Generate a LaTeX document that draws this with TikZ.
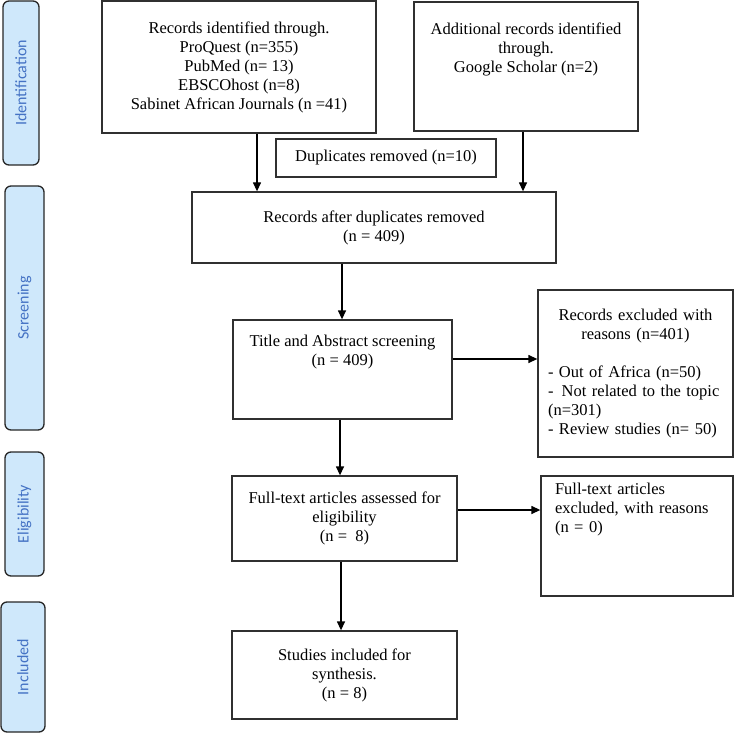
\documentclass[tikz,border=0pt]{standalone}
\usepackage{fontspec}
\setmainfont{Liberation Serif}
\newfontfamily\stagefont{Carlito}
\usetikzlibrary{arrows.meta}
\definecolor{stagefill}{HTML}{CFE8FB}
\definecolor{stagetext}{HTML}{4472C4}
\definecolor{boxline}{HTML}{303030}
\tikzset{
  flowbox/.style={rectangle,draw=boxline,line width=1.3pt,inner sep=2pt,
    align=center,font=\fontsize{16.5}{19}\selectfont},
  stagebox/.style={rectangle,rounded corners=6pt,draw=black!85,line width=1.3pt,
    fill=stagefill,rotate=90,inner sep=0pt,text=stagetext,
    font=\stagefont\fontsize{16}{19}\selectfont},
  flowarrow/.style={-{Triangle[length=9pt,width=8pt]},line width=1.3pt}
}
\begin{document}
\begin{tikzpicture}[x=1pt,y=-1pt]
  \useasboundingbox (0,0) rectangle (734,733);
  % stages on the left
  \node[stagebox,minimum width=164pt,minimum height=36pt] (sident) at (21,83) {Identification};
  \node[stagebox,minimum width=244pt,minimum height=39pt] (sscreen) at (24.5,308) {Screening};
  \node[stagebox,minimum width=124pt,minimum height=39pt] (selig) at (24.5,514) {Eligibility};
  \node[stagebox,minimum width=130pt,minimum height=44pt] (sincl) at (23,667) {Included};
  % flow boxes
  \node[flowbox,minimum width=274pt,minimum height=132pt] (ident) at (239,67)
    {Records identified through.\\ ProQuest (n=355)\\ PubMed (n= 13)\\ EBSCOhost (n=8)\\ Sabinet African Journals (n =41)};
  \node[flowbox,minimum width=224pt,minimum height=129pt] (addl) at (526,66.5)
    {Additional records identified\\ through.\\ Google Scholar (n=2)\\ ~\\ ~};
  \node[flowbox,minimum width=220pt,minimum height=38pt] (dup) at (386,158)
    {Duplicates removed (n=10)};
  \node[flowbox,minimum width=364pt,minimum height=71pt] (after) at (374,227.5)
    {Records after duplicates removed\\ (n = 409)};
  \node[flowbox,minimum width=219pt,minimum height=99pt] (title) at (342.5,369.5)
    {Title and Abstract screening\\ (n = 409)\\ ~\\ ~};
  \node[flowbox,align=left,inner xsep=10pt,text width=175pt,minimum height=167pt] (excl) at (635.5,373.5)
    {{\centering Records excluded with\\ reasons (n=401)\par}\mbox{}\\
     - Out of Africa (n=50)\\ - \,Not related to the topic\\ (n=301)\\ - Review studies (n= 50)};
  \node[flowbox,minimum width=225pt,minimum height=85pt] (full) at (344.5,518.5)
    {Full-text articles assessed for\\ eligibility\\ (n = \ 8)};
  \node[flowbox,align=left,inner xsep=14pt,text width=164pt,minimum height=120pt] (fexcl) at (637,536)
    {Full-text articles\\ excluded, with reasons\\ (n = 0)\\ ~\\ ~\\ ~};
  \node[flowbox,minimum width=225pt,minimum height=88pt] (studies) at (344.5,675)
    {Studies included for\\ synthesis.\\ (n = 8)};
  % arrows
  \draw[flowarrow] (ident.south -| 257,0) -- (after.north -| 257,0);
  \draw[flowarrow] (addl.south -| 523,0) -- (after.north -| 523,0);
  \draw[flowarrow] (after.south -| 342,0) -- (title.north -| 342,0);
  \draw[flowarrow] (title.east |- 0,359) -- (excl.west |- 0,359);
  \draw[flowarrow] (title.south -| 340,0) -- (full.north -| 340,0);
  \draw[flowarrow] (full.east |- 0,510) -- (fexcl.west |- 0,510);
  \draw[flowarrow] (full.south -| 341,0) -- (studies.north -| 341,0);
\end{tikzpicture}
\end{document}
